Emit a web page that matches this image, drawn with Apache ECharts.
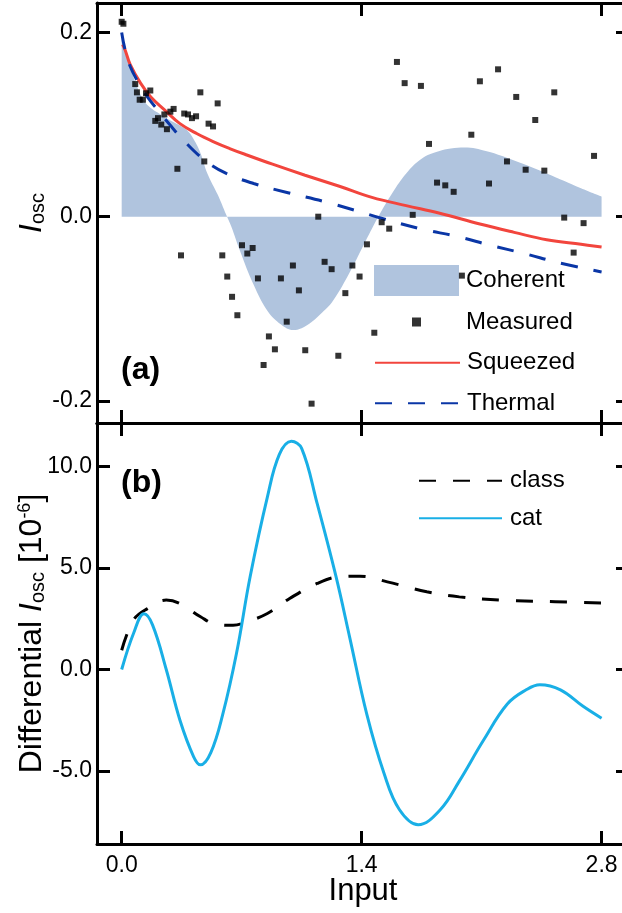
<!DOCTYPE html>
<html>
<head>
<meta charset="utf-8">
<title>Oscillation signal vs input</title>
<script src="https://cdn.jsdelivr.net/npm/echarts@6/dist/echarts.min.js"></script>
<style>
  html, body { margin: 0; padding: 0; background: #fff; }
  #chart { width: 622px; height: 913px; }
</style>
</head>
<body>
<div id="chart"></div>
<script>
// ---- panel (a): I_osc ----
const coherent = [
  [0, 0.200], [0.05, 0.163], [0.09, 0.141], [0.13, 0.126], [0.17, 0.118], [0.21, 0.113],
  [0.26, 0.107], [0.32, 0.101], [0.38, 0.094], [0.42, 0.084], [0.46, 0.069], [0.50, 0.047],
  [0.56, 0.024], [0.61, 0.002], [0.64, -0.011], [0.69, -0.037], [0.77, -0.074], [0.85, -0.102],
  [0.93, -0.117], [1.00, -0.123], [1.05, -0.121], [1.11, -0.114], [1.17, -0.104], [1.23, -0.092],
  [1.32, -0.064], [1.40, -0.035], [1.46, -0.013], [1.50, 0.001], [1.58, 0.026], [1.66, 0.047],
  [1.75, 0.063], [1.85, 0.071], [1.92, 0.074], [2.00, 0.075], [2.13, 0.071], [2.29, 0.061],
  [2.48, 0.047], [2.68, 0.031], [2.80, 0.022]
];
const measured = [
  [0.0, 0.2116], [0.01, 0.2095], [0.079, 0.144], [0.089, 0.135], [0.105, 0.127], [0.124, 0.127],
  [0.142, 0.134], [0.167, 0.137], [0.459, 0.135], [0.560, 0.123], [0.303, 0.117], [0.284, 0.114],
  [0.249, 0.111], [0.365, 0.112], [0.387, 0.111], [0.410, 0.107], [0.434, 0.109], [0.212, 0.107],
  [0.196, 0.104], [0.231, 0.100], [0.264, 0.095], [0.507, 0.101], [0.533, 0.098], [0.482, 0.060],
  [0.325, 0.052], [1.606, 0.168], [1.651, 0.145], [1.746, 0.142], [1.793, 0.079], [1.840, 0.037],
  [1.888, 0.034], [1.937, 0.027], [2.196, 0.160], [2.090, 0.147], [2.302, 0.130], [2.524, 0.135],
  [2.413, 0.105], [2.040, 0.089], [2.756, 0.066], [2.248, 0.060], [2.357, 0.051], [2.466, 0.050],
  [2.143, 0.036], [0.346, -0.042], [0.587, -0.042], [0.702, -0.031], [0.733, -0.040], [0.764, -0.034],
  [0.616, -0.065], [0.795, -0.067], [0.644, -0.087], [0.675, -0.107], [0.859, -0.130], [0.828, -0.161],
  [1.147, 0.000], [1.517, -0.006], [1.561, -0.013], [1.698, 0.002], [1.431, -0.030], [0.999, -0.053],
  [1.184, -0.049], [1.225, -0.057], [1.346, -0.053], [0.929, -0.067], [1.388, -0.065], [1.034, -0.080],
  [1.305, -0.083], [0.963, -0.114], [1.474, -0.126], [0.894, -0.144], [1.071, -0.145], [1.264, -0.151],
  [1.108, -0.203], [2.582, -0.001], [2.695, -0.007], [2.637, -0.039], [1.985, -0.064]
];
const squeezed = [
  [0.005, 0.187], [0.02, 0.181], [0.05, 0.165], [0.11, 0.145], [0.17, 0.130], [0.25, 0.116],
  [0.34, 0.101], [0.44, 0.090], [0.54, 0.081], [0.63, 0.074], [0.73, 0.067], [0.88, 0.057],
  [1.07, 0.045], [1.27, 0.033], [1.46, 0.021], [1.66, 0.012], [1.85, 0.004], [2.09, -0.008],
  [2.29, -0.017], [2.48, -0.025], [2.68, -0.030], [2.80, -0.033]
];
const thermal = [
  [0, 0.200], [0.02, 0.181], [0.05, 0.163], [0.09, 0.148], [0.15, 0.130], [0.21, 0.116],
  [0.28, 0.100], [0.36, 0.083], [0.48, 0.062], [0.61, 0.047], [0.77, 0.036], [0.97, 0.026],
  [1.19, 0.016], [1.36, 0.007], [1.52, -0.002], [1.74, -0.013], [1.97, -0.022], [2.15, -0.031],
  [2.35, -0.040], [2.55, -0.050], [2.80, -0.060]
];

// ---- panel (b): differential I_osc [1e-6] ----
const classCurve = [
  [0, 0.95], [0.07, 2.45], [0.15, 3.0], [0.26, 3.42], [0.34, 3.25], [0.46, 2.6], [0.55, 2.23],
  [0.65, 2.18], [0.73, 2.35], [0.85, 2.76], [0.98, 3.5], [1.14, 4.24], [1.27, 4.57], [1.39, 4.6],
  [1.55, 4.32], [1.78, 3.83], [1.97, 3.58], [2.21, 3.42], [2.40, 3.37], [2.80, 3.28]
];
const catCurve = [
  [0, 0], [0.07, 1.8], [0.13, 2.75], [0.18, 2.2], [0.26, 0], [0.34, -2.5], [0.42, -4.3],
  [0.46, -4.7], [0.52, -4.1], [0.59, -2.2], [0.67, 0.8], [0.75, 4.6], [0.85, 8.5], [0.92, 10.6],
  [0.99, 11.25], [1.05, 10.9], [1.14, 8.2], [1.25, 4.6], [1.33, 1.6], [1.43, -2.2], [1.53, -5.1],
  [1.62, -6.9], [1.73, -7.65], [1.86, -6.9], [1.97, -5.5], [2.11, -3.5], [2.25, -1.7], [2.36, -1.0],
  [2.44, -0.75], [2.56, -1.0], [2.69, -1.8], [2.80, -2.4]
];

// ticks
const xTicks = [0, 1.4, 2.8];
const yTicksA = [-0.2, 0, 0.2];
const yTicksB = [-5, 0, 5, 10];

const FONT = 'Liberation Sans';
const AREA = '#b0c4de';
const RED = '#f2453d';
const BLUE = '#0a36a6';
const CYAN = '#19afe6';

const xMin = -0.144, xMax = 2.96;

// every side of both frames is an axis with inward ticks
function axis(gridIndex, position, min, max, ticks, label) {
  return {
    type: 'value', gridIndex: gridIndex, position: position, min: min, max: max,
    axisLine: { show: true, onZero: false, lineStyle: { color: '#000', width: 3 } },
    axisTick: { show: true, inside: true, length: 13, customValues: ticks,
      lineStyle: { color: '#000', width: 3 } },
    axisLabel: label ? {
      show: true, customValues: ticks, margin: label.margin,
      formatter: function (v) { return v.toFixed(1); },
      fontFamily: FONT, fontSize: 23, color: '#000'
    } : { show: false },
    splitLine: { show: false }
  };
}

const xAxisBottomB = axis(1, 'bottom', xMin, xMax, xTicks, { margin: 10 });
xAxisBottomB.name = 'Input';
xAxisBottomB.nameLocation = 'middle';
xAxisBottomB.nameGap = 32;
xAxisBottomB.nameMoveOverlap = false;
xAxisBottomB.nameTextStyle = { fontFamily: FONT, fontSize: 31, color: '#000' };

const yAxisA = axis(0, 'left', -0.224, 0.232, yTicksA, { margin: 5 });
yAxisA.name = '{i|I}{s|osc}';
yAxisA.nameLocation = 'middle';
yAxisA.nameRotate = 90;
yAxisA.nameGap = 49;
yAxisA.nameMoveOverlap = false;
yAxisA.nameTextStyle = {
  fontFamily: FONT, color: '#000', fontSize: 32,
  rich: {
    i: { fontFamily: FONT, fontSize: 32, fontStyle: 'italic', color: '#000' },
    s: { fontFamily: FONT, fontSize: 20, lineHeight: 12, verticalAlign: 'bottom', color: '#000' }
  }
};

const yAxisB = axis(1, 'left', -8.6, 12.15, yTicksB, { margin: 5 });
yAxisB.name = '{n|Differential }{i|I}{s|osc}{n| [10}{p|-6}{n|]}';
yAxisB.nameLocation = 'middle';
yAxisB.nameRotate = 90;
yAxisB.nameGap = 49;
yAxisB.nameMoveOverlap = false;
yAxisB.nameTextStyle = {
  fontFamily: FONT, color: '#000', fontSize: 32,
  rich: {
    n: { fontFamily: FONT, fontSize: 32, color: '#000' },
    i: { fontFamily: FONT, fontSize: 32, fontStyle: 'italic', color: '#000' },
    s: { fontFamily: FONT, fontSize: 20, lineHeight: 12, verticalAlign: 'bottom', color: '#000' },
    p: { fontFamily: FONT, fontSize: 18, lineHeight: 8, verticalAlign: 'top', color: '#000' }
  }
};

const legendText = { fontFamily: FONT, fontSize: 24, color: '#000' };
const NO_SYMBOL = { color: 'rgba(0,0,0,0)', borderColor: 'rgba(0,0,0,0)', borderWidth: 0 };
function legendItem(name, left, top, w, h, pad, icon) {
  const l = {
    data: [name], left: left, top: top, padding: 0, selectedMode: false,
    itemWidth: w, itemHeight: h,
    textStyle: Object.assign({ padding: [0, 0, 0, pad] }, legendText)
  };
  if (icon) l.icon = icon;
  else l.itemStyle = NO_SYMBOL; // line entries: keep the stroke, drop the marker
  return l;
}

const option = {
  animation: false,
  backgroundColor: '#fff',
  grid: [
    { left: 97, top: 3, width: 532, height: 420, outerBoundsMode: 'none', containLabel: false },
    { left: 97, top: 423, width: 532, height: 421, outerBoundsMode: 'none', containLabel: false }
  ],
  xAxis: [
    axis(0, 'bottom', xMin, xMax, xTicks, null),
    xAxisBottomB,
    axis(0, 'top', xMin, xMax, xTicks, null),
    axis(1, 'top', xMin, xMax, xTicks, null)
  ],
  yAxis: [
    yAxisA,
    yAxisB,
    axis(0, 'right', -0.224, 0.232, yTicksA, null),
    axis(1, 'right', -8.6, 12.15, yTicksB, null)
  ],
  legend: [
    legendItem('Coherent', 374, 265, 85, 31, 2, 'rect'),
    legendItem('Measured', 412, 310, 9, 9, 40, 'rect'),
    legendItem('Squeezed', 374, 350.7, 85, 14, 2),
    legendItem('Thermal', 374, 391.3, 85, 14, 2),
    legendItem('class', 418, 468.7, 83, 14, 3),
    legendItem('cat', 418, 506.3, 83, 14, 3)
  ],
  graphic: [
    { type: 'text', left: 121, top: 354, style: { text: '(a)', font: 'bold 32px "Liberation Sans"', fill: '#000' } },
    { type: 'text', left: 121, top: 467, style: { text: '(b)', font: 'bold 32px "Liberation Sans"', fill: '#000' } }
  ],
  series: [
    {
      name: 'Coherent', type: 'line', xAxisIndex: 0, yAxisIndex: 0, data: coherent,
      smooth: 0.4, symbol: 'none', color: AREA,
      lineStyle: { width: 0, color: AREA }, areaStyle: { color: AREA, opacity: 1 }, z: 1
    },
    {
      name: 'Squeezed', type: 'line', xAxisIndex: 0, yAxisIndex: 0, data: squeezed,
      smooth: 0.4, symbol: 'none', color: RED, lineStyle: { width: 3, color: RED }, z: 3
    },
    {
      name: 'Thermal', type: 'line', xAxisIndex: 0, yAxisIndex: 0, data: thermal,
      smooth: 0.4, symbol: 'none', color: BLUE,
      lineStyle: { width: 3, color: BLUE, type: [17, 16] }, z: 3
    },
    {
      name: 'Measured', type: 'scatter', xAxisIndex: 0, yAxisIndex: 0, data: measured,
      symbol: 'rect', symbolSize: 6, color: '#000', itemStyle: { color: '#000' }, z: 5
    },
    {
      name: 'class', type: 'line', xAxisIndex: 1, yAxisIndex: 1, data: classCurve,
      smooth: 0.4, symbol: 'none', color: '#000',
      lineStyle: { width: 3, color: '#000', type: [17, 17] }, z: 3
    },
    {
      name: 'cat', type: 'line', xAxisIndex: 1, yAxisIndex: 1, data: catCurve,
      smooth: 0.4, symbol: 'none', color: CYAN, lineStyle: { width: 3, color: CYAN }, z: 4
    }
  ]
};

const chart = echarts.init(document.getElementById('chart'));
chart.setOption(option);
</script>
</body>
</html>
